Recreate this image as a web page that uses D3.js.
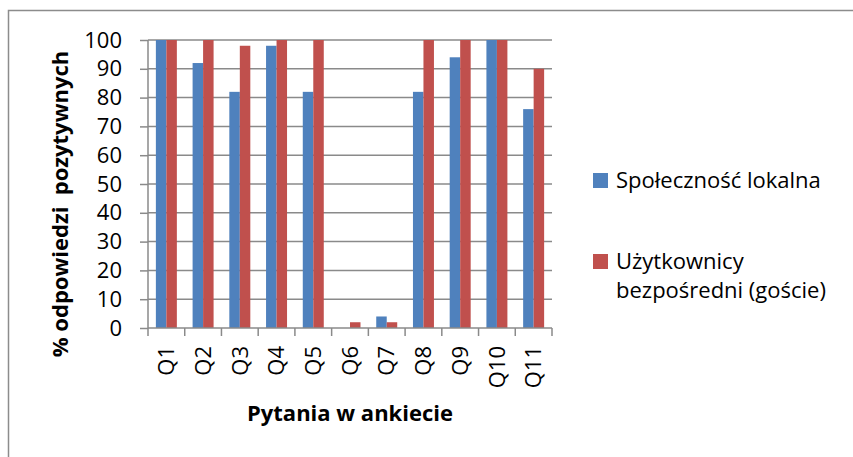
<!DOCTYPE html>
<html>
<head>
<meta charset="utf-8">
<script src="https://cdn.jsdelivr.net/npm/d3@7"></script>
<style>
  body { margin: 0; background: #fff; }
  text { font-family: "Open Sans", "Noto Sans", sans-serif; fill: #000; }
</style>
</head>
<body>
<script>
// chart values
const questions = ["Q1", "Q2", "Q3", "Q4", "Q5", "Q6", "Q7", "Q8", "Q9", "Q10", "Q11"];
const seriesNames = ["Społeczność lokalna", "Użytkownicy bezpośredni (goście)"];
const local = [100, 92, 82, 98, 82, 0, 4, 82, 94, 100, 76];
const guests = [100, 100, 98, 100, 100, 2, 2, 100, 100, 100, 90];
const yTicks = [0, 10, 20, 30, 40, 50, 60, 70, 80, 90, 100];
const colors = ["#4F81BD", "#C0504D"];

const W = 853, H = 457;
const svg = d3.select("body").append("svg").attr("width", W).attr("height", H);

// outer chart frame (runs off the right and bottom edge)
svg.append("rect")
  .attr("x", 8.5).attr("y", 10.5).attr("width", W + 20).attr("height", H + 20)
  .attr("fill", "none").attr("stroke", "#8c8c8c").attr("stroke-width", 1.5);

const pLeft = 148, pRight = 552, pTop = 40, pBottom = 328;

const x = d3.scaleBand().domain(questions).range([pLeft, pRight]).paddingInner(0).paddingOuter(0);
const y = d3.scaleLinear().domain([0, 100]).range([pBottom, pTop]);

// series inside each category: gap of 150% of bar width
const barW = x.bandwidth() / 3.5;
const x1 = d3.scaleBand().domain([0, 1]).range([barW * 0.75, barW * 2.75]);

// gridlines
svg.append("g").selectAll("line").data(yTicks.filter(d => d > 0)).join("line")
  .attr("x1", pLeft).attr("x2", pRight)
  .attr("y1", d => y(d)).attr("y2", d => y(d))
  .attr("stroke", "#8a8a8a").attr("stroke-width", 1.5);

// bars
const rows = questions.map((q, i) => ({ q, vals: [local[i], guests[i]] }));
const groups = svg.append("g").selectAll("g").data(rows).join("g")
  .attr("transform", d => `translate(${x(d.q)},0)`);
groups.selectAll("rect").data(d => d.vals).join("rect")
  .attr("x", (d, i) => x1(i))
  .attr("width", x1.bandwidth())
  .attr("y", d => y(d))
  .attr("height", d => y(0) - y(d))
  .attr("fill", (d, i) => colors[i]);

// y axis
const yAxis = svg.append("g").attr("transform", `translate(${pLeft},0)`)
  .call(d3.axisLeft(y).tickValues(yTicks).tickSize(8).tickPadding(18));
yAxis.select(".domain").attr("stroke", "#8a8a8a").attr("stroke-width", 1.5).attr("d", `M0,${pTop}V${pBottom}`);
yAxis.selectAll(".tick line").attr("stroke", "#8a8a8a").attr("stroke-width", 1.5);
yAxis.selectAll(".tick text").style("font-size", "22px").attr("fill", "#000");

// x axis
const xAxis = svg.append("g").attr("transform", `translate(0,${pBottom})`)
  .call(d3.axisBottom(x).tickSize(0).tickPadding(0));
xAxis.select(".domain").attr("stroke", "#8a8a8a").attr("stroke-width", 1.5).attr("d", `M${pLeft},0H${pRight}`);
xAxis.selectAll(".tick text")
  .style("font-size", "22px").attr("fill", "#000")
  .attr("text-anchor", "end")
  .attr("transform", "rotate(-90)")
  .attr("x", -18).attr("y", 0).attr("dy", "0.35em");
// category boundary ticks
svg.append("g").selectAll("line").data(d3.range(questions.length + 1)).join("line")
  .attr("x1", i => pLeft + i * x.bandwidth()).attr("x2", i => pLeft + i * x.bandwidth())
  .attr("y1", pBottom).attr("y2", pBottom + 8)
  .attr("stroke", "#8a8a8a").attr("stroke-width", 1.5);

// axis titles
svg.append("text")
  .attr("transform", "translate(68,204) rotate(-90)")
  .attr("text-anchor", "middle")
  .style("font-size", "22px").style("font-weight", "bold")
  .attr("xml:space", "preserve")
  .text("% odpowiedzi  pozytywnych");

svg.append("text")
  .attr("x", 350).attr("y", 421)
  .attr("text-anchor", "middle")
  .style("font-size", "22px").style("font-weight", "bold")
  .text("Pytania w ankiecie");

// legend
const legendItems = [
  { lines: ["Społeczność lokalna"], y: 188 },
  { lines: ["Użytkownicy", "bezpośredni (goście)"], y: 269 }
];
const lg = svg.append("g").selectAll("g").data(legendItems).join("g");
lg.append("rect")
  .attr("x", 593).attr("y", d => d.y - 15).attr("width", 15).attr("height", 15)
  .attr("fill", (d, i) => colors[i]);
lg.append("text")
  .attr("x", 616).attr("y", d => d.y)
  .style("font-size", "22px")
  .selectAll("tspan").data(d => d.lines).join("tspan")
  .attr("x", 616).attr("dy", (d, i) => i === 0 ? 0 : 29)
  .text(d => d);
</script>
</body>
</html>
